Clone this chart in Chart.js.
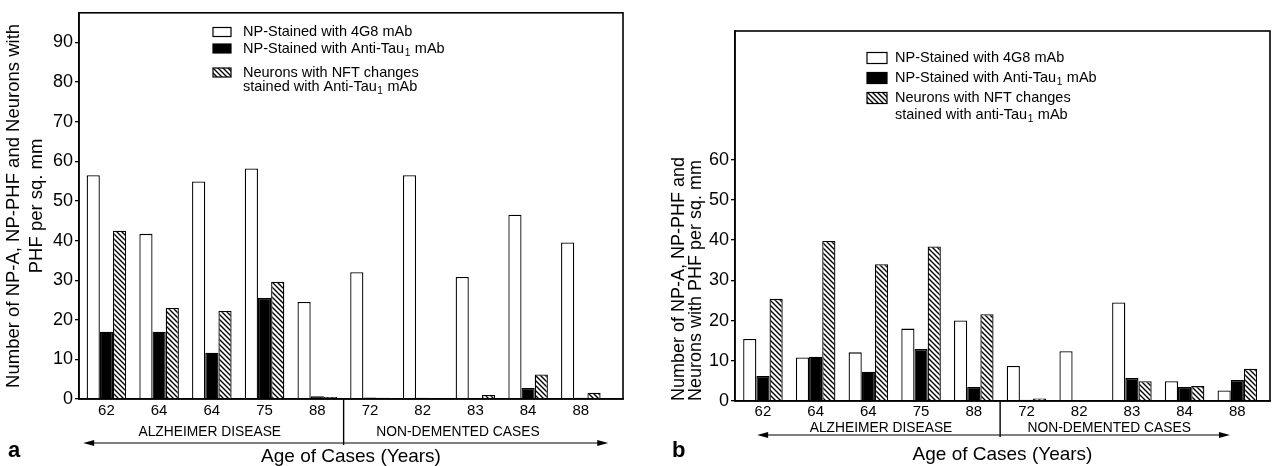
<!DOCTYPE html>
<html>
<head>
<meta charset="utf-8">
<script src="https://cdn.jsdelivr.net/npm/chart.js@4.4.1/dist/chart.umd.min.js"></script>
<style>
  html, body { margin: 0; padding: 0; background: #fff; }
  #wrap { position: relative; width: 1274px; height: 466px; overflow: hidden; }
  canvas { position: absolute; top: 0; }
  #chartA { left: 0; }
  #chartB { left: 640px; }
</style>
</head>
<body>
<div id="wrap">
  <canvas id="chartA" width="640" height="466"></canvas>
  <canvas id="chartB" width="634" height="466"></canvas>
</div>
<script>
// ages of the cases (x categories), same for both panels
const ages = ['62', '64', '64', '75', '88', '72', '82', '83', '84', '88'];
const groupNames = ['ALZHEIMER DISEASE', 'NON-DEMENTED CASES'];
const xTitle = 'Age of Cases (Years)';

const namesA = ['NP-Stained with 4G8 mAb', 'NP-Stained with Anti-Tau₁ mAb',
  ['Neurons with NFT changes', 'stained with Anti-Tau₁ mAb']];
const namesB = ['NP-Stained with 4G8 mAb', 'NP-Stained with Anti-Tau₁ mAb',
  ['Neurons with NFT changes', 'stained with anti-Tau₁ mAb']];

// panel a
const a4g8 = [56.5, 41.7, 54.9, 58.2, 24.5, 32.0, 56.5, 30.8, 46.5, 39.5];
const aTau = [17.0, 17.0, 11.7, 25.5, 0.7, 0.4, 0.3, 0.2, 2.8, 0.3];
const aNft = [42.5, 23.0, 22.2, 29.6, 0.5, 0.3, 0.2, 1.0, 6.2, 1.6];
const yTicksA = [0, 10, 20, 30, 40, 50, 60, 70, 80, 90];

// panel b
const b4g8 = [15.4, 10.8, 12.1, 18.0, 20.0, 8.7, 12.4, 24.5, 4.9, 2.6];
const bTau = [6.2, 11.0, 7.3, 12.9, 3.5, 0.3, 0.2, 5.7, 3.5, 5.2];
const bNft = [25.4, 39.8, 34.0, 38.4, 21.6, 0.6, 0.2, 4.9, 3.7, 8.0];
const yTicksB = [0, 10, 20, 30, 40, 50, 60];

const FONT = '"Liberation Sans", Arial, Helvetica, sans-serif';
Chart.defaults.font.family = FONT;
Chart.defaults.color = '#000';

function hatchPattern() {
  const n = 5;
  const c = document.createElement('canvas');
  c.width = n; c.height = n;
  const g = c.getContext('2d');
  g.fillStyle = '#fff';
  g.fillRect(0, 0, n, n);
  g.strokeStyle = '#000';
  g.lineWidth = 1.4;
  g.beginPath();
  g.moveTo(-1, -1); g.lineTo(n + 1, n + 1);
  g.moveTo(-1, n - 1); g.lineTo(1, n + 1);
  g.moveTo(n - 1, -1); g.lineTo(n + 1, 1);
  g.stroke();
  return g.createPattern(c, 'repeat');
}

// text with a subscript "1" where the label has ₁
function drawLabel(ctx, text, x, y, size) {
  const parts = text.split('₁');
  let cx = x;
  parts.forEach((p, i) => {
    ctx.font = size + 'px ' + FONT;
    ctx.fillText(p, cx, y);
    cx += ctx.measureText(p).width;
    if (i < parts.length - 1) {
      ctx.font = (size * 0.7) + 'px ' + FONT;
      ctx.fillText('1', cx + 0.5, y + size * 0.3);
      cx += ctx.measureText('1').width + 1;
    }
  });
}

const deco = {
  id: 'deco',
  afterDraw(chart, args, o) {
    const { ctx, chartArea: ca } = chart;
    const x = chart.scales.x;
    ctx.save();
    ctx.strokeStyle = '#000';
    ctx.fillStyle = '#000';

    // frame around the plot
    ctx.lineWidth = 1.6;
    ctx.strokeRect(ca.left, ca.top, ca.right - ca.left, ca.bottom - ca.top);

    // divider between the two groups
    const dx = x.getPixelForValue(o.divide);
    ctx.lineWidth = 1.4;
    ctx.beginPath();
    ctx.moveTo(dx, ca.bottom);
    ctx.lineTo(dx, o.arrowY + 2);
    ctx.stroke();

    // double arrow
    const x0 = x.getPixelForValue(o.arrowFrom);
    const x1 = x.getPixelForValue(o.arrowTo);
    ctx.lineWidth = 1.2;
    ctx.beginPath();
    ctx.moveTo(x0 + 6, o.arrowY);
    ctx.lineTo(x1 - 6, o.arrowY);
    ctx.stroke();
    ctx.beginPath();
    ctx.moveTo(x0, o.arrowY); ctx.lineTo(x0 + 11, o.arrowY - 3); ctx.lineTo(x0 + 11, o.arrowY + 3);
    ctx.closePath(); ctx.fill();
    ctx.beginPath();
    ctx.moveTo(x1, o.arrowY); ctx.lineTo(x1 - 11, o.arrowY - 3); ctx.lineTo(x1 - 11, o.arrowY + 3);
    ctx.closePath(); ctx.fill();

    // group names
    ctx.font = '13.8px ' + FONT;
    ctx.textAlign = 'center';
    ctx.textBaseline = 'middle';
    ctx.fillText(groupNames[0], x.getPixelForValue(o.groupAt[0]), o.groupY);
    ctx.fillText(groupNames[1], x.getPixelForValue(o.groupAt[1]), o.groupY);

    // legend
    const L = o.legend;
    ctx.textAlign = 'left';
    chart.data.datasets.forEach((ds, i) => {
      const ry = L.rows[i];
      ctx.fillStyle = ds.backgroundColor;
      ctx.fillRect(L.x, ry - L.boxH / 2, L.boxW, L.boxH);
      ctx.lineWidth = 1.2;
      ctx.strokeRect(L.x, ry - L.boxH / 2, L.boxW, L.boxH);
      ctx.fillStyle = '#000';
      const lines = [].concat(ds.label);
      lines.forEach((t, k) => drawLabel(ctx, t, L.textX, ry + k * L.lh, L.size));
    });

    // panel letter
    ctx.font = 'bold 22px ' + FONT;
    ctx.textBaseline = 'alphabetic';
    ctx.fillText(o.letter, o.letterX, 457);
    ctx.restore();
  }
};

function makeChart(id, vals, names, yTicks, spec) {
  const pattern = hatchPattern();
  const fills = ['#fff', '#000', pattern];
  return new Chart(document.getElementById(id), {
    type: 'bar',
    data: {
      datasets: vals.map((v, k) => ({
        label: names[k],
        data: v.map((y, i) => ({ x: i, y: y })),
        backgroundColor: fills[k],
        borderColor: '#000',
        borderWidth: 1.3,
        categoryPercentage: 0.75,
        barPercentage: 1.0
      }))
    },
    options: {
      responsive: false,
      animation: false,
      devicePixelRatio: 1,
      layout: { padding: spec.padding },
      plugins: {
        legend: { display: false },
        tooltip: { enabled: false },
        deco: spec.deco
      },
      scales: {
        x: {
          type: 'linear',
          offset: false,
          min: spec.xMin,
          max: spec.xMax,
          afterBuildTicks: s => { s.ticks = ages.map((a, i) => ({ value: i })); },
          afterFit: s => { s.height = spec.xHeight; },
          grid: { display: false, drawTicks: false, offset: false },
          border: { color: '#000', width: 1.5 },
          ticks: {
            autoSkip: false, maxRotation: 0, padding: spec.xPad,
            font: { size: 15 },
            callback: (v, i) => ages[i]
          },
          title: {
            display: true, text: xTitle,
            font: { size: 19, lineHeight: 1 },
            padding: { top: 0, bottom: spec.xTitlePad }
          }
        },
        y: {
          min: 0,
          max: spec.yMax,
          afterBuildTicks: s => { s.ticks = yTicks.map(v => ({ value: v })); },
          afterFit: s => { s.width = spec.yWidth; },
          grid: { drawOnChartArea: false, drawTicks: true, tickLength: 4, color: '#000', lineWidth: 1.3 },
          border: { color: '#000', width: 1.5 },
          ticks: { padding: 2, font: { size: 18 } },
          title: {
            display: true, text: spec.yTitle, align: spec.yAlign,
            font: { size: spec.yFont, lineHeight: spec.yLine },
            padding: { top: spec.yTitlePad, bottom: 0 }
          }
        }
      }
    },
    plugins: [deco]
  });
}

makeChart('chartA', [a4g8, aTau, aNft], namesA, yTicksA, {
  padding: { left: 0, top: 7, right: 17, bottom: 0 },
  xMin: -0.52, xMax: 9.8, xHeight: 67, xPad: 3, xTitlePad: 0,
  yMax: 97.5, yWidth: 79,
  yTitle: ['Number of NP-A, NP-PHF and Neurons with', 'PHF per sq. mm'],
  yAlign: 'center', yFont: 18.5, yLine: 1.25, yTitlePad: 2,
  deco: {
    divide: 4.5, arrowY: 443, arrowFrom: -0.44, arrowTo: 9.52,
    groupY: 432, groupAt: [1.96, 6.67],
    letter: 'a', letterX: 8,
    legend: { x: 213, boxW: 18, boxH: 9, textX: 243, rows: [32, 48.5, 72.5], lh: 14.5, size: 14.5 }
  }
});

makeChart('chartB', [b4g8, bTau, bNft], namesB, yTicksB, {
  padding: { left: 0, top: 31, right: 4, bottom: 0 },
  xMin: -0.53, xMax: 9.62, xHeight: 65, xPad: 2, xTitlePad: 1.5,
  yMax: 92, yWidth: 95,
  yTitle: ['Number of NP-A, NP-PHF and', 'Neurons with PHF per sq. mm'],
  yAlign: 'start', yFont: 18, yLine: 0.95, yTitlePad: 30,
  deco: {
    divide: 4.5, arrowY: 435, arrowFrom: -0.11, arrowTo: 8.86,
    groupY: 428, groupAt: [2.24, 6.57],
    letter: 'b', letterX: 32,
    legend: { x: 227, boxW: 20, boxH: 11, textX: 255, rows: [58, 78, 98], lh: 17, size: 14.5 }
  }
});
</script>
</body>
</html>
